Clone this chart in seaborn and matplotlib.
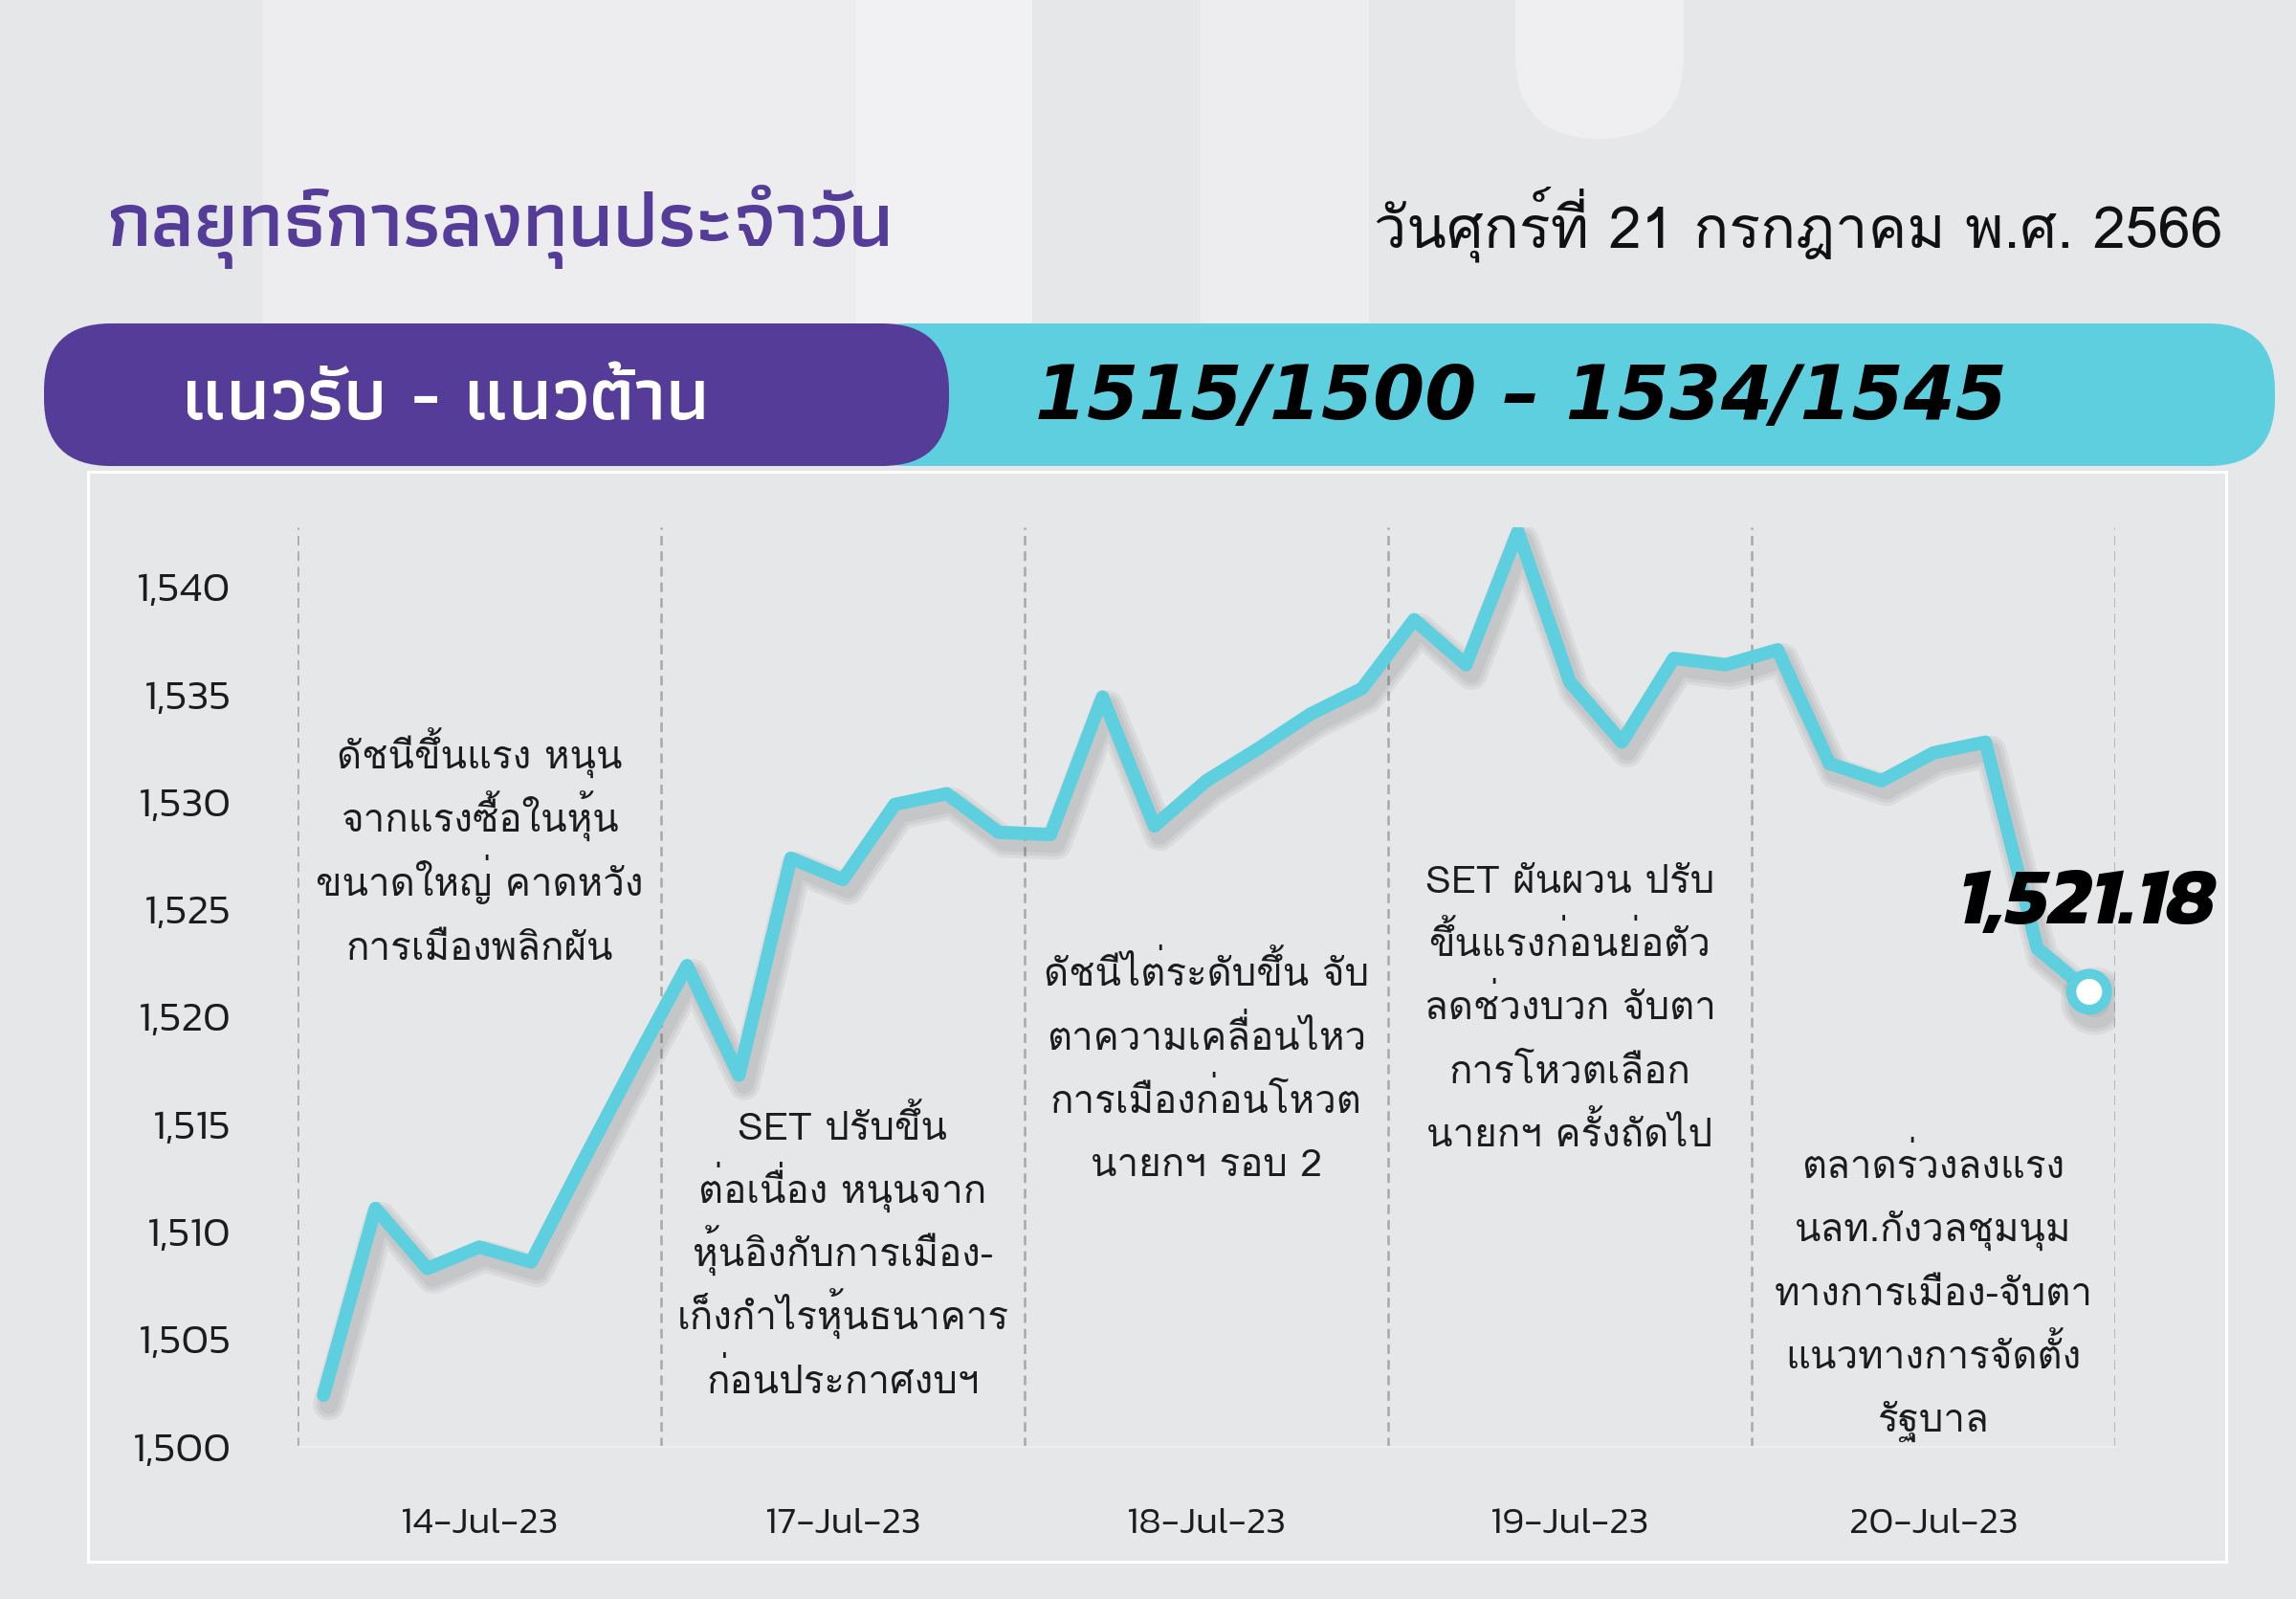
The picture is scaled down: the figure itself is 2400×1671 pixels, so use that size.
import numpy as np
import pandas as pd
import matplotlib
matplotlib.use("Agg")
import matplotlib.pyplot as plt
import matplotlib.patheffects as pe
from matplotlib.patches import FancyBboxPatch, Rectangle
import seaborn as sns

# ========== data ==========
day_labels = ['14-Jul-23', '17-Jul-23', '18-Jul-23', '19-Jul-23', '20-Jul-23']

# SET index, 7 intraday readings per session
set_14jul = [1502.4, 1511.1, 1508.3, 1509.3, 1508.6, 1513.3, 1517.9]
set_17jul = [1522.4, 1517.3, 1527.4, 1526.4, 1529.9, 1530.4, 1528.6]
set_18jul = [1528.5, 1534.9, 1528.9, 1531.0, 1532.5, 1534.1, 1535.3]
set_19jul = [1538.5, 1536.4, 1542.6, 1535.6, 1532.8, 1536.7, 1536.4]
set_20jul = [1537.1, 1531.8, 1531.0, 1532.3, 1532.8, 1523.2, 1521.18]

y_ticks = [1500, 1505, 1510, 1515, 1520, 1525, 1530, 1535, 1540]

title_text = 'กลยุทธ์การลงทุนประจำวัน'
date_text = 'วันศุกร์ที่ 21 กรกฎาคม พ.ศ. 2566'
band_label = 'แนวรับ - แนวต้าน'
band_range = '1515/1500 – 1534/1545'

notes = [
    ['ดัชนีขึ้นแรง หนุน', 'จากแรงซื้อในหุ้น', 'ขนาดใหญ่ คาดหวัง', 'การเมืองพลิกผัน'],
    ['SET ปรับขึ้น', 'ต่อเนื่อง หนุนจาก', 'หุ้นอิงกับการเมือง-', 'เก็งกำไรหุ้นธนาคาร', 'ก่อนประกาศงบฯ'],
    ['ดัชนีไต่ระดับขึ้น จับ', 'ตาความเคลื่อนไหว', 'การเมืองก่อนโหวต', 'นายกฯ รอบ 2'],
    ['SET ผันผวน ปรับ', 'ขึ้นแรงก่อนย่อตัว', 'ลดช่วงบวก จับตา', 'การโหวตเลือก', 'นายกฯ ครั้งถัดไป'],
    ['ตลาดร่วงลงแรง', 'นลท.กังวลชุมนุม', 'ทางการเมือง-จับตา', 'แนวทางการจัดตั้ง', 'รัฐบาล'],
]

sessions = [set_14jul, set_17jul, set_18jul, set_19jul, set_20jul]
df = pd.DataFrame({
    'day': np.repeat(day_labels, [len(s) for s in sessions]),
    'set': np.concatenate(sessions),
})
df['t'] = np.arange(len(df))
per_day = len(set_14jul)

# ========== style ==========
sns.set_theme(style='white')
plt.rcParams['font.family'] = ['Kanit', 'DejaVu Sans']
plt.rcParams['axes.unicode_minus'] = False

# Loma stacks Thai vowel + tone marks correctly without a shaping engine
thai_stack = ['Loma', 'DejaVu Sans']

bg = '#E6E7E9'
purple = '#553C98'
cyan = '#5ECFDF'
ink = '#1C1C1C'

fig = plt.figure(figsize=(24, 16.71), dpi=100)
fig.patch.set_facecolor(bg)

# background layer in pixel units
bga = fig.add_axes([0, 0, 1, 1], zorder=0)
bga.set_xlim(0, 2400)
bga.set_ylim(1671, 0)
bga.axis('off')

# faint decorative stripes at the top
for x0, x1, c in [(275, 895, '#EDEDEF'), (895, 1079, '#F1F1F3'), (1255, 1431, '#EDEDEF')]:
    bga.add_patch(Rectangle((x0, 0), x1 - x0, 338, facecolor=c, edgecolor='none'))
bga.add_patch(FancyBboxPatch((1584, -100), 176, 245, boxstyle='round,pad=0,rounding_size=88',
                             facecolor='#EFEFF1', edgecolor='none'))

# header texts
bga.text(112, 257, title_text, family=['Athiti', 'DejaVu Sans'], fontweight=600,
         fontsize=58.5, color=purple, ha='left', va='baseline')
bga.text(2323, 258, date_text, family=thai_stack, fontsize=44,
         color='#111111', ha='right', va='baseline')

# support / resistance band
bga.add_patch(FancyBboxPatch((880, 338), 1498, 149, boxstyle='round,pad=0,rounding_size=70',
                             facecolor=cyan, edgecolor='none'))
bga.add_patch(FancyBboxPatch((46, 338), 946, 149, boxstyle='round,pad=0,rounding_size=70',
                             facecolor=purple, edgecolor='none'))
bga.text(191, 438, band_label, family=['Athiti', 'DejaVu Sans'], fontweight=600,
         fontsize=56, color='white', ha='left', va='baseline')
bga.text(1082, 438, band_range, family=['DejaVu Sans'], fontweight='bold', fontstyle='italic',
         fontsize=56, color='black', ha='left', va='baseline')

# chart panel
bga.add_patch(Rectangle((92, 493), 2235, 1139, facecolor=bg, edgecolor='white', linewidth=2.2))

# ========== line chart ==========
ax = fig.add_axes([311 / 2400, (1671 - 1512) / 1671, 1900 / 2400, 961 / 1671], zorder=2)
ax.set_facecolor('none')

shadow = [pe.SimpleLineShadow(offset=(4, -7), shadow_color='#2a2a2a', alpha=0.06, linewidth=w)
          for w in (24, 19, 14)] + [pe.Normal()]

sns.lineplot(data=df, x='t', y='set', ax=ax, color=cyan, linewidth=10,
             solid_joinstyle='round', solid_capstyle='round', path_effects=shadow,
             zorder=3, legend=False)
last = df.iloc[-1]
ax.plot([last['t']], [last['set']], marker='o', ms=27, mfc='white', mec=cyan, mew=7.5,
        zorder=4, path_effects=shadow)
ax.text(last['t'] + 2.45, last['set'] + 4.06, f"{last['set']:,.2f}", fontweight=700,
        fontstyle='italic', fontsize=61, color='black', ha='right', va='center',
        zorder=5, clip_on=False)

# session separators
bounds = np.arange(len(sessions) + 1) * per_day - 0.5
ax.vlines(bounds, 1500, 1542.8, colors='#A8A8AA', linestyles=(0, (4, 2.5)), linewidth=1.8, zorder=1)

# annotations
note_top = [1532.1, 1514.85, 1522.0, 1526.35, 1513.07]
for k, lines in enumerate(notes):
    for j, s in enumerate(lines):
        ax.text(k * per_day + (per_day - 1) / 2, note_top[k] - j * 2.955 - 0.55, s, fontsize=29,
                family=thai_stack, color=ink, ha='center', va='baseline', zorder=2)

ax.set_xlim(-0.5, len(df) - 0.5)
ax.set_ylim(1500, 1542.8)
ax.set_xticks([k * per_day + (per_day - 1) / 2 for k in range(len(sessions))])
ax.set_xticklabels(day_labels)
ax.set_yticks(y_ticks)
ax.set_yticklabels([f'{v:,}' for v in y_ticks])
ax.tick_params(axis='y', length=0, pad=50, labelsize=32, labelcolor=ink)
ax.tick_params(axis='x', length=0, pad=46, labelsize=29, labelcolor=ink)
for lab in ax.get_xticklabels() + ax.get_yticklabels():
    lab.set_fontweight(300)
ax.set_xlabel('')
ax.set_ylabel('')
for side in ['left', 'right', 'top']:
    ax.spines[side].set_visible(False)
ax.spines['bottom'].set_color('#EDEDEF')
ax.spines['bottom'].set_linewidth(1.5)

fig.savefig('out.png', dpi=100, facecolor=fig.get_facecolor())
